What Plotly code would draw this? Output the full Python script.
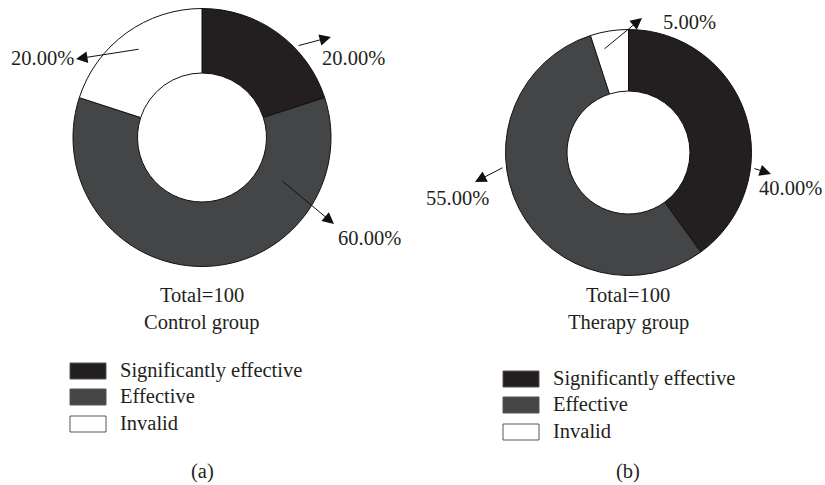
import plotly.graph_objects as go

# ---------------- data ----------------
categories = ["Significantly effective", "Effective", "Invalid"]
control_values = [20, 60, 20]
therapy_values = [40, 55, 5]
group_names = ["Control group", "Therapy group"]
totals = [100, 100]
panel_tags = ["(a)", "(b)"]

# ---------------- style / layout ----------------
W, H = 825, 485
COLORS = ["#231f20", "#434547", "#ffffff"]
FONT = "Liberation Serif"
FS = 20.5
TXT = "#231f20"


def px(x):
    return x / W


def py(y):
    return 1 - y / H


panels = [
    dict(values=control_values, cx=202, cy=137.5, r=129,
         # per category: tail(x,y), head(x,y), label centre(x,y)
         callouts=[((297, 46), (331, 37), (353, 58)),
                   ((281, 180), (334, 224), (369, 238)),
                   ((140, 49), (76, 59), (42, 58))],
         title_x=202, title_y=[295, 322],
         leg_x=70, leg_y=[371, 397, 424], tag_y=471),
    dict(values=therapy_values, cx=628.5, cy=152.5, r=123,
         callouts=[((753, 168), (771, 174), (790, 188)),
                   ((504, 167), (475, 182), (457, 198)),
                   ((603, 50), (642, 18), (689, 22))],
         title_x=628, title_y=[295, 322],
         leg_x=503, leg_y=[379, 405, 432], tag_y=471),
]

fig = go.Figure()
annotations = []
shapes = []

for i, p in enumerate(panels):
    fig.add_trace(go.Pie(
        labels=categories,
        values=p["values"],
        hole=0.5,
        sort=False,
        direction="clockwise",
        rotation=0,
        textinfo="none",
        hoverinfo="label+percent",
        marker=dict(colors=COLORS, line=dict(color="#111111", width=1)),
        domain=dict(x=[px(p["cx"] - p["r"]), px(p["cx"] + p["r"])],
                    y=[max(0, py(p["cy"] + p["r"])), min(1, py(p["cy"] - p["r"]))]),
        showlegend=False,
    ))
    total = sum(p["values"])
    for v, (tail, head, lab) in zip(p["values"], p["callouts"]):
        annotations.append(dict(
            x=px(head[0]), y=py(head[1]), xref="paper", yref="paper",
            ax=tail[0] - head[0], ay=tail[1] - head[1], axref="pixel", ayref="pixel",
            text="", showarrow=True, arrowhead=2, arrowsize=2.3, arrowwidth=1,
            arrowcolor="#111111", standoff=0, startstandoff=0))
        annotations.append(dict(
            x=px(lab[0]), y=py(lab[1]), xref="paper", yref="paper",
            text=f"{100 * v / total:.2f}%", showarrow=False,
            xanchor="center", yanchor="middle",
            font=dict(family=FONT, size=FS, color=TXT)))
    # titles under the donut
    for txt, ty in zip([f"Total={totals[i]}", group_names[i]], p["title_y"]):
        annotations.append(dict(
            x=px(p["title_x"]), y=py(ty), xref="paper", yref="paper",
            text=txt, showarrow=False, xanchor="center", yanchor="middle",
            font=dict(family=FONT, size=FS, color=TXT)))
    # legend
    for cat, col, ly in zip(categories, COLORS, p["leg_y"]):
        shapes.append(dict(
            type="rect", xref="paper", yref="paper",
            x0=px(p["leg_x"]), x1=px(p["leg_x"] + 36),
            y0=py(ly + 8), y1=py(ly - 8),
            fillcolor=col, line=dict(color="#555555", width=1)))
        annotations.append(dict(
            x=px(p["leg_x"] + 48), y=py(ly - 1), xref="paper", yref="paper",
            text=cat, showarrow=False, xanchor="left", yanchor="middle",
            font=dict(family=FONT, size=FS, color=TXT)))
    # panel tag
    annotations.append(dict(
        x=px(p["title_x"]), y=py(p["tag_y"]), xref="paper", yref="paper",
        text=panel_tags[i], showarrow=False, xanchor="center", yanchor="middle",
        font=dict(family=FONT, size=FS, color=TXT)))

fig.update_layout(
    width=W, height=H,
    margin=dict(l=0, r=0, t=0, b=0),
    paper_bgcolor="white", plot_bgcolor="white",
    annotations=annotations, shapes=shapes,
    showlegend=False,
)

fig.write_html("out.html")
